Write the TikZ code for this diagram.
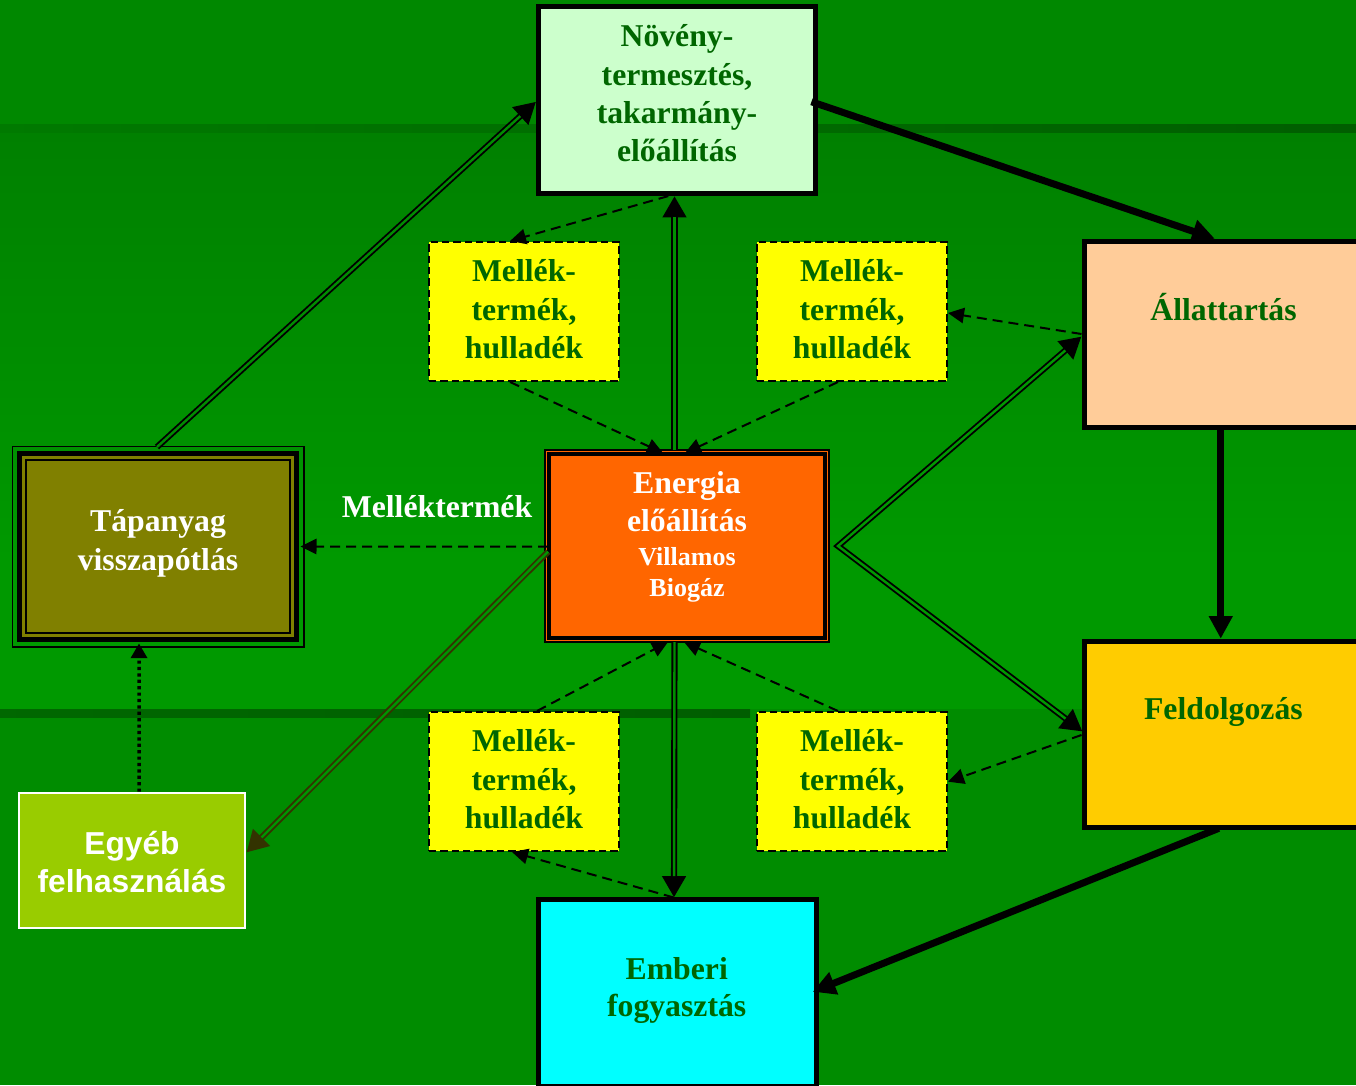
\documentclass[tikz,border=0pt]{standalone}
\usepackage{fontspec}
\setmainfont{Liberation Serif}
\newfontfamily\arialfont{Liberation Sans}
\usetikzlibrary{arrows.meta,calc}
\definecolor{bgtop}{HTML}{008800}
\definecolor{bgupper}{HTML}{008000}
\definecolor{bgmid}{HTML}{009900}
\definecolor{bglow}{HTML}{008C00}
\definecolor{bandL}{HTML}{007A00}
\definecolor{bandR}{HTML}{005E00}
\definecolor{txtgreen}{HTML}{006600}
\definecolor{novc}{HTML}{CCFFCC}
\definecolor{allc}{HTML}{FFCC99}
\definecolor{feldc}{HTML}{FFCC00}
\definecolor{embc}{HTML}{00FFFF}
\definecolor{enc}{HTML}{FF6600}
\definecolor{tapc}{HTML}{808000}
\definecolor{egyc}{HTML}{99CC00}
\definecolor{yelc}{HTML}{FFFF00}
\definecolor{brn}{HTML}{333300}
\begin{document}
\begin{tikzpicture}[x=0.75pt,y=-0.75pt,
  bigbox/.style={draw=black, line width=3.75pt, inner sep=0pt, minimum width=208.1pt, minimum height=140pt},
  ybox/.style={draw=black, fill=yelc, line width=1.5pt, dash pattern=on 5.5pt off 3pt, inner sep=0pt, minimum width=142.5pt, minimum height=104.25pt},
  lbl/.style={anchor=base, inner sep=0pt, text=txtgreen, font=\fontsize{23.8}{28.7}\selectfont\bfseries},
  wlbl/.style={anchor=base, inner sep=0pt, text=white, font=\fontsize{23.8}{28.7}\selectfont\bfseries},
  wsmall/.style={anchor=base, inner sep=0pt, text=white, font=\fontsize{19.5}{23}\selectfont\bfseries},
  albl/.style={anchor=base, inner sep=0pt, text=white, font=\fontsize{23.8}{28.7}\selectfont\arialfont\bfseries},
  dasharrow/.style={draw=black, line width=1.5pt, dash pattern=on 7.5pt off 4.5pt, -{Triangle[length=12pt,width=11.5pt]}},
  heavy/.style={draw=black, line width=5.25pt, -{Triangle[length=17pt,width=17pt]}},
  dblout/.style={draw=black, line width=4.6pt},
  dblin/.style={draw=#1, line width=1.8pt},
  dtip/.style={-{Triangle[length=16pt,width=17pt]}},
  dtips/.style={{Triangle[length=16pt,width=17pt]}-{Triangle[length=16pt,width=17pt]}},
]
\useasboundingbox (0,0) rectangle (1356,1085);
% background
\fill[bgtop] (0,0) rectangle (1356,124);
\shade[left color=bandL, right color=bandR] (0,124) rectangle (1356,133);
\shade[top color=bgupper, bottom color=bgmid] (0,133) rectangle (1356,560);
\fill[bgmid] (0,559) rectangle (1356,709);
\fill[bglow] (0,709) rectangle (1356,1085);
\shade[left color=bandL!85!black, right color=bandR] (0,709) rectangle (750,717);

% main boxes
\node[bigbox, fill=novc] (nov) at (677.25,100.25) {};
\node[bigbox, fill=allc] (all) at (1222.75,334.5) {};
\node[bigbox, fill=feldc] (feld) at (1222.75,734.5) {};
\node[bigbox, fill=embc] (emb) at (677.5,993.25) {};

% yellow boxes
\node[ybox] (y1) at (524,311.5) {};
\node[ybox] (y2) at (852,311.5) {};
\node[ybox] (y3) at (524,781.5) {};
\node[ybox] (y4) at (852,781.5) {};

% energia
\node[draw=black, fill=enc, line width=1.5pt, inner sep=0pt, minimum width=213pt, minimum height=144pt] (en) at (687,546) {};
\node[draw=black, line width=2.6pt, inner sep=0pt, minimum width=207.3pt, minimum height=138.3pt] (enI) at (687,546) {};

% tapanyag
\node[draw=black, line width=1.35pt, inner sep=0pt, minimum width=218.4pt, minimum height=150.15pt] (tapA) at (158,546.5) {};
\node[draw=black, fill=tapc, line width=3.75pt, inner sep=0pt, minimum width=207.45pt, minimum height=139.2pt] (tapB) at (158,546.5) {};
\node[draw=black, line width=1.35pt, inner sep=0pt, minimum width=198pt, minimum height=129.75pt] (tapC) at (158,546.5) {};

% egyeb
\node[draw=white, fill=egyc, line width=1.5pt, inner sep=0pt, minimum width=169.8pt, minimum height=101.7pt] (egy) at (132.2,860.5) {};

% labels
\node[lbl] (tn1) at (677,46.7) {Növény-};
\node[lbl] (tn2) at (677,85) {termesztés,};
\node[lbl] (tn3) at (677,123.3) {takarmány-};
\node[lbl] (tn4) at (677,161.7) {előállítás};
\node[lbl] (ta1) at (1223.5,320.7) {Állattartás};
\node[lbl] (tf1) at (1223.4,719.3) {Feldolgozás};
\node[lbl] (te1) at (676.7,979) {Emberi};
\node[lbl] (te2) at (676.7,1016.7) {fogyasztás};
\node[lbl] (ty1a) at (524,281.7) {Mellék-};
\node[lbl] (ty1b) at (524,320) {termék,};
\node[lbl] (ty1c) at (524,358.3) {hulladék};
\node[lbl] (ty2a) at (852,281.7) {Mellék-};
\node[lbl] (ty2b) at (852,320) {termék,};
\node[lbl] (ty2c) at (852,358.3) {hulladék};
\node[lbl] (ty3a) at (524,751.7) {Mellék-};
\node[lbl] (ty3b) at (524,790) {termék,};
\node[lbl] (ty3c) at (524,828.3) {hulladék};
\node[lbl] (ty4a) at (852,751.7) {Mellék-};
\node[lbl] (ty4b) at (852,790) {termék,};
\node[lbl] (ty4c) at (852,828.3) {hulladék};
\node[wlbl] (ten1) at (687,493.3) {Energia};
\node[wlbl] (ten2) at (687,531.7) {előállítás};
\node[wsmall] (ten3) at (687,565) {Villamos};
\node[wsmall] (ten4) at (687,596.7) {Biogáz};
\node[wlbl] (tt1) at (158,531.7) {Tápanyag};
\node[wlbl] (tt2) at (158,570) {visszapótlás};
\node[wlbl] (tmel) at (437,517.3) {Melléktermék};
\node[albl] (tg1) at (132,854.3) {Egyéb};
\node[albl] (tg2) at (132,892.3) {felhasználás};

% coordinates
\coordinate (enR) at ($(en.east)+(8,0)$);

% heavy arrows
\draw[heavy] ($(nov.east)+(-7,1.5)$) -- ($(all.north)+(-8,0)$);
\draw[heavy] ($(all.south)+(-2,0)$) -- ($(feld.north)+(-2,0)$);
\draw[heavy] ($(feld.south)+(-4,-2)$) -- ($(emb.east)+(-6,-1.5)$);

% double arrows (outer black + inner background stripe)
\draw[dblout, dtip] ($(tapA.north)+(-1,1.5)$) -- ($(nov.west)+(0,1.5)$);
\draw[dblin=bgupper!50!bgmid, shorten >=16pt] ($(tapA.north)+(-1,1.5)$) -- ($(nov.west)+(0,1.5)$);
\draw[dblout, dtip] ($(en.north)+(-12.5,1)$) -- ($(nov.south)+(-2.75,0)$);
\draw[dblin=bgupper!40!bgmid, shorten >=16pt] ($(en.north)+(-12.5,1)$) -- ($(nov.south)+(-2.75,0)$);
\draw[dblout, dtip] ($(en.south)+(-12.5,-1)$) -- ($(emb.north)+(-3.5,0)$);
\draw[dblin=bglow, shorten >=16pt] ($(en.south)+(-12.5,-1)$) -- ($(emb.north)+(-3.5,0)$);
\draw[dblout, dtips] ($(all.west)+(0,2)$) -- (enR) -- ($(feld.west)+(1,-3)$);
\draw[dblin=bgmid, shorten >=16pt, shorten <=16pt] ($(all.west)+(0,2)$) -- (enR) -- ($(feld.west)+(1,-3)$);
\draw[dblout, draw=brn, dtip] ($(en.west)+(4,5.7)$) -- ($(egy.east)+(0,-8)$);
\draw[dblin=bgmid!60!bglow, shorten >=16pt] ($(en.west)+(4,5.7)$) -- ($(egy.east)+(0,-8)$);

% dashed arrows
\draw[dasharrow] ($(en.west)+(4,0.7)$) -- ($(tapA.east)+(-4,0)$);
\draw[dasharrow] ($(nov.south)+(-9,0)$) -- ($(y1.north)+(-14,0)$);
\draw[dasharrow] ($(y1.south)+(-14,0)$) -- ($(en.north)+(-24,4)$);
\draw[dasharrow] ($(y2.south)+(-14,0)$) -- ($(en.north)+(-2,4)$);
\draw[dasharrow] ($(all.west)+(0,-0.5)$) -- ($(y2.east)+(0,1.5)$);
\draw[dasharrow] ($(y3.north)+(13,0)$) -- ($(en.south)+(-19,-1)$);
\draw[dasharrow] ($(y4.north)+(-14,0)$) -- ($(en.south)+(-3,-1)$);
\draw[dasharrow] ($(feld.west)+(0,0.5)$) -- ($(y4.east)+(0,0.2)$);
\draw[dasharrow] ($(emb.north)+(-4,0)$) -- ($(y3.south)+(-12,0)$);

% dotted arrow
\draw[draw=black, line width=2.6pt, dash pattern=on 2.4pt off 2.4pt, -{Triangle[length=11pt,width=12pt]}] ($(egy.north)+(7,0)$) -- ($(tapA.south)+(-19,-4)$);
\end{tikzpicture}
\end{document}
